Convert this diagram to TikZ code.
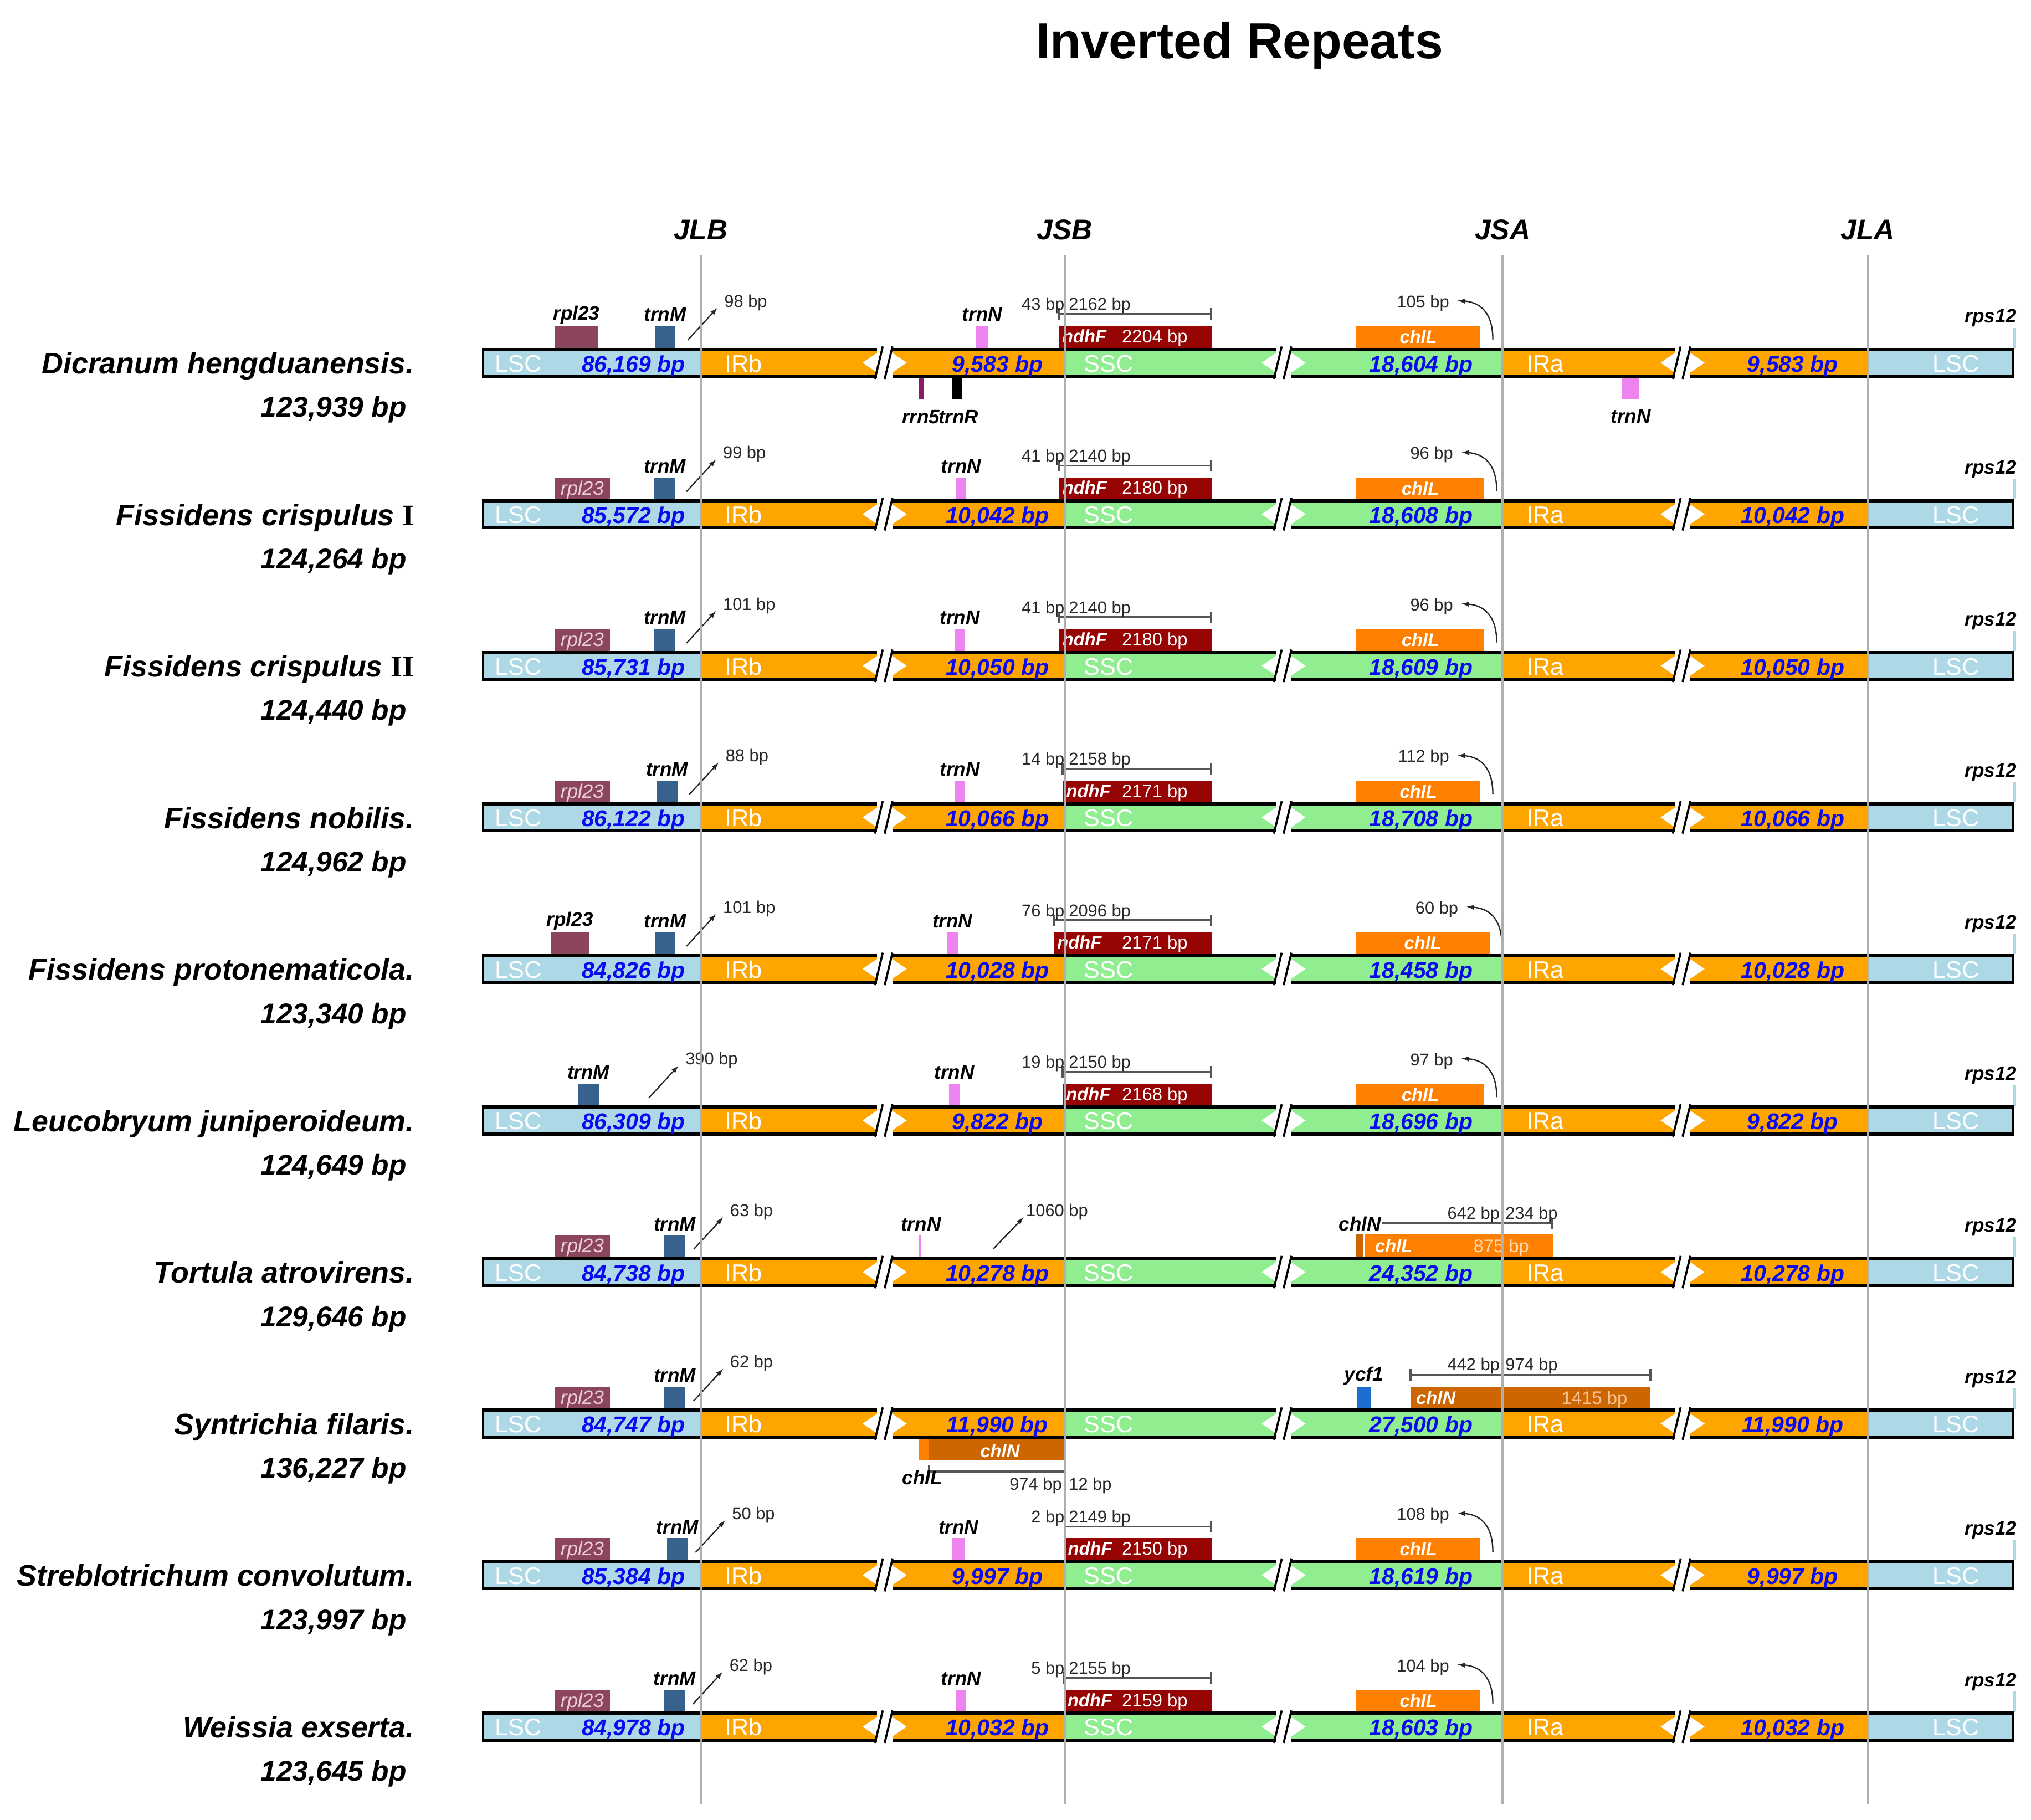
\documentclass[tikz,border=0pt]{standalone}
\usepackage{fontspec}
\setmainfont{Liberation Sans}
\newfontfamily\numserif{Liberation Serif}
\usetikzlibrary{arrows.meta}

\definecolor{lscc}{RGB}{173,216,230}
\definecolor{irc}{RGB}{255,165,0}
\definecolor{sscc}{RGB}{144,238,144}
\definecolor{rplc}{RGB}{140,70,92}
\definecolor{trnMc}{RGB}{55,98,140}
\definecolor{trnNc}{RGB}{238,130,238}
\definecolor{ndhFc}{RGB}{150,4,4}
\definecolor{chlLc}{RGB}{255,127,0}
\definecolor{chlNc}{RGB}{205,102,0}
\definecolor{ycfc}{RGB}{30,110,210}
\definecolor{rrnc}{RGB}{139,26,107}
\definecolor{vline}{RGB}{175,175,175}
\definecolor{dimc}{RGB}{85,85,85}
\definecolor{smalltxt}{RGB}{40,40,40}
\definecolor{bpblue}{RGB}{10,10,240}
\definecolor{paletxt}{RGB}{255,215,175}
\definecolor{paletxtb}{RGB}{245,195,150}
\definecolor{rpltxt}{RGB}{235,205,215}

\tikzset{
  titlefont/.style={font=\fontsize{39}{39}\selectfont\bfseries, inner sep=0, anchor=base},
  hdr/.style={font=\fontsize{22}{22}\selectfont\bfseries\itshape, inner sep=0, anchor=base},
  species/.style={font=\fontsize{23}{23}\selectfont\bfseries\itshape, inner sep=0, anchor=base east},
  total/.style={font=\fontsize{22}{22}\selectfont\bfseries\itshape, inner sep=0, anchor=base east},
  seglbl/.style={font=\fontsize{18.5}{18.5}\selectfont, text=white, inner sep=0, anchor=base},
  bplbl/.style={font=\fontsize{17.5}{17.5}\selectfont\bfseries\itshape, text=bpblue, inner sep=0, anchor=base},
  glbl/.style={font=\fontsize{15}{15}\selectfont\bfseries\itshape, inner sep=0, anchor=base},
  small/.style={font=\fontsize{13.2}{13.2}\selectfont, text=smalltxt, inner sep=0, anchor=base},
  inname/.style={font=\fontsize{14}{14}\selectfont\bfseries\itshape, text=white, inner sep=0, anchor=base},
  innum/.style={font=\fontsize{14}{14}\selectfont, text=white, inner sep=0, anchor=base},
  inrpl/.style={font=\fontsize{15}{15}\selectfont\itshape, text=rpltxt, inner sep=0, anchor=base},
  barline/.style={line width=2.6, black},
  slashln/.style={line width=1.6, black},
  dimln/.style={line width=1.6, dimc},
  ptr/.style={line width=1, black!85, -{Latex[length=6pt,width=4pt]}},
  vln/.style={line width=1.4, vline},
}

\newcommand{\rn}[1]{{\numserif\bfseries\upshape #1}}

\newcommand{\genomebar}[4]{%
  \fill[lscc] (372,-11.5) rectangle (541,11.5);
  \fill[irc] (541,-11.5) rectangle (677,11.5);
  \fill[irc] (689,-11.5) rectangle (822,11.5);
  \fill[sscc] (822,-11.5) rectangle (985,11.5);
  \fill[sscc] (997,-11.5) rectangle (1160,11.5);
  \fill[irc] (1160,-11.5) rectangle (1293,11.5);
  \fill[irc] (1305,-11.5) rectangle (1442,11.5);
  \fill[lscc] (1442,-11.5) rectangle (1555,11.5);
  \foreach \xa/\xb in {372/677,689/985,997/1293,1305/1555}{
    \draw[barline] (\xa,-10.3) -- (\xb,-10.3);
    \draw[barline] (\xa,10.3) -- (\xb,10.3);
  }
  \draw[line width=1.6] (372.8,-11.5) -- (372.8,11.5);
  \draw[line width=1.6] (1554.2,-11.5) -- (1554.2,11.5);
  \foreach \bx in {677,985,1293}{
    \fill[white] (\bx-11,0) -- (\bx,-7.5) -- (\bx,7.5) -- cycle;
    \fill[white] (\bx+23,0) -- (\bx+12,-7.5) -- (\bx+12,7.5) -- cycle;
    \draw[slashln] (\bx-1.5,12.5) -- (\bx+4.5,-12.5);
    \draw[slashln] (\bx+6,12.5) -- (\bx+12,-12.5);
  }
  \node[seglbl] (lscl#1) at (400,7) {LSC};
  \node[bplbl] (lscbp#1) at (489,7) {#2};
  \node[seglbl] (irbl#1) at (574,7) {IRb};
  \node[bplbl] (irbbp#1) at (770,7) {#3};
  \node[seglbl] (sscl#1) at (856,7) {SSC};
  \node[bplbl] (sscbp#1) at (1097,7) {#4};
  \node[seglbl] (iral#1) at (1193,7) {IRa};
  \node[bplbl] (irabp#1) at (1384,7) {#3};
  \node[seglbl] (lscr#1) at (1510,7) {LSC};
}

\newcommand{\mkrplin}[1]{%
  \fill[rplc] (428,-28.5) rectangle (471,-11.5);
  \node[inrpl] (rpl#1) at (449.5,-15) {rpl23};}
\newcommand{\mkrplabove}[3]{%
  \fill[rplc] (#2,-28.5) rectangle (#3,-11.5);
  \node[glbl] (rpl#1) at ({(#2+#3)/2},-33) {rpl23};}
\newcommand{\mktrnM}[5]{%
  \fill[trnMc] (#2,-28.5) rectangle (#3,-11.5);
  \node[glbl] (trnM#1) at ({(#2+#3)/2},-32) {trnM};
  \coordinate (ma#1) at (#4,-17.5);
  \coordinate (mb#1) at ({#4+23},-42.5);
  \draw[ptr] (ma#1) -- (mb#1);
  \node[small, anchor=base west] (mbp#1) at ({#4+28},-43) {#5};}
\newcommand{\mktrnN}[3]{%
  \fill[trnNc] (#2,-28.5) rectangle (#3,-11.5);
  \node[glbl] (trnN#1) at ({(#2+#3)/2},-32) {trnN};}
\newcommand{\mkndhF}[5]{%
  \fill[ndhFc] (#2,-28.5) rectangle (936,-11.5);
  \node[inname, anchor=base west] (ndhF#1) at ({#2+2.5},-15.5) {ndhF};
  \node[innum, anchor=base west] (ndhFbp#1) at (866,-15.5) {#5};
  \coordinate (da#1) at (#2,-37.5);
  \coordinate (db#1) at (935,-37.5);
  \draw[dimln] (da#1) -- (db#1);
  \foreach \tx in {#2,822,935} \draw[dimln] (\tx,-42) -- (\tx,-33);
  \node[small, anchor=base east] (ndhA#1) at (822,-40.5) {#3};
  \node[small, anchor=base west] (ndhB#1) at (825,-40.5) {#4};}
\newcommand{\mkchlL}[3]{%
  \fill[chlLc] (1047,-28.5) rectangle (#2,-11.5);
  \node[inname] (chlL#1) at ({(1047+#2)/2},-15) {chlL};
  \coordinate (ca#1) at ({#2+9.5},-18);
  \coordinate (cb#1) at ({#2-18},-48);
  \draw[ptr] (ca#1) .. controls ({#2+9.5},-36) and ({#2+2},-46.5) .. (cb#1);
  \node[small, anchor=base east] (cbp#1) at ({#2-24},-42.5) {#3};}
\newcommand{\mkrps}[1]{%
  \fill[lscc] (1554,-27) rectangle (1556.5,-11.5);
  \node[glbl] (rps#1) at (1537,-31) {rps12};}

\begin{document}
\begin{tikzpicture}[x=1pt,y=-1pt]
\useasboundingbox (0,0) rectangle (1568,1405);
\fill[white] (0,0) rectangle (1568,1405);

\node[titlefont] (title) at (957,45) {Inverted Repeats};
\node[hdr] (hJLB) at (541,185) {JLB};
\node[hdr] (hJSB) at (822,185) {JSB};
\node[hdr] (hJSA) at (1160,185) {JSA};
\node[hdr] (hJLA) at (1442,185) {JLA};

% Row 1
\begin{scope}[shift={(0,280)}]
  \node[species] (sp1) at (320,8.5) {Dicranum hengduanensis.};
  \node[total] (tot1) at (314,42) {123,939 bp};
  \mkrplabove{1}{428}{462}
  \mktrnM{1}{506}{521}{531}{98 bp}
  \mktrnN{1}{753.5}{763}
  \mkndhF{1}{817.3}{43 bp}{2162 bp}{2204 bp}
  \mkchlL{1}{1143}{105 bp}
  \mkrps{1}
  \fill[rrnc] (709.6,11.5) rectangle (712.8,28.5);
  \fill[black] (735,11.5) rectangle (743,28.5);
  \fill[trnNc] (1252.5,11.5) rectangle (1265,28.5);
  \genomebar{1}{86,169 bp}{9,583 bp}{18,604 bp}
  \node[glbl] (rrn1) at (711,47) {rrn5};
  \node[glbl] (trnR1) at (740,47) {trnR};
  \node[glbl] (trnNb1) at (1259,46.5) {trnN};
\end{scope}

% Row 2
\begin{scope}[shift={(0,397)}]
  \node[species] (sp2) at (320,8.5) {Fissidens crispulus \rn{I}};
  \node[total] (tot2) at (314,42) {124,264 bp};
  \mkrplin{2}
  \mktrnM{2}{505}{521.5}{530}{99 bp}
  \mktrnN{2}{738}{746}
  \mkndhF{2}{817.6}{41 bp}{2140 bp}{2180 bp}
  \mkchlL{2}{1146}{96 bp}
  \mkrps{2}
  \genomebar{2}{85,572 bp}{10,042 bp}{18,608 bp}
\end{scope}

% Row 3
\begin{scope}[shift={(0,514)}]
  \node[species] (sp3) at (320,8.5) {Fissidens crispulus \rn{II}};
  \node[total] (tot3) at (314,42) {124,440 bp};
  \mkrplin{3}
  \mktrnM{3}{505}{521.5}{530}{101 bp}
  \mktrnN{3}{737}{745}
  \mkndhF{3}{817.6}{41 bp}{2140 bp}{2180 bp}
  \mkchlL{3}{1146}{96 bp}
  \mkrps{3}
  \genomebar{3}{85,731 bp}{10,050 bp}{18,609 bp}
\end{scope}

% Row 4
\begin{scope}[shift={(0,631)}]
  \node[species] (sp4) at (320,8.5) {Fissidens nobilis.};
  \node[total] (tot4) at (314,42) {124,962 bp};
  \mkrplin{4}
  \mktrnM{4}{507}{523}{532}{88 bp}
  \mktrnN{4}{737}{745}
  \mkndhF{4}{820.5}{14 bp}{2158 bp}{2171 bp}
  \mkchlL{4}{1143}{112 bp}
  \mkrps{4}
  \genomebar{4}{86,122 bp}{10,066 bp}{18,708 bp}
\end{scope}

% Row 5
\begin{scope}[shift={(0,748)}]
  \node[species] (sp5) at (320,8.5) {Fissidens protonematicola.};
  \node[total] (tot5) at (314,42) {123,340 bp};
  \mkrplabove{5}{425}{455}
  \mktrnM{5}{505.8}{521}{530}{101 bp}
  \mktrnN{5}{731}{739.5}
  \mkndhF{5}{813.5}{76 bp}{2096 bp}{2171 bp}
  \mkchlL{5}{1150}{60 bp}
  \mkrps{5}
  \genomebar{5}{84,826 bp}{10,028 bp}{18,458 bp}
\end{scope}

% Row 6
\begin{scope}[shift={(0,865)}]
  \node[species] (sp6) at (320,8.5) {Leucobryum juniperoideum.};
  \node[total] (tot6) at (314,42) {124,649 bp};
  \mktrnM{6}{446}{462.5}{501}{390 bp}
  \mktrnN{6}{732.5}{741}
  \mkndhF{6}{820.4}{19 bp}{2150 bp}{2168 bp}
  \mkchlL{6}{1146}{97 bp}
  \mkrps{6}
  \genomebar{6}{86,309 bp}{9,822 bp}{18,696 bp}
\end{scope}

% Row 7
\begin{scope}[shift={(0,982)}]
  \node[species] (sp7) at (320,8.5) {Tortula atrovirens.};
  \node[total] (tot7) at (314,42) {129,646 bp};
  \mkrplin{7}
  \mktrnM{7}{513}{529}{535.5}{63 bp}
  \fill[trnNc] (709.5,-28.5) rectangle (711.3,-11.5);
  \node[glbl] (trnN7) at (711,-32) {trnN};
  \coordinate (na7) at (767,-18);
  \coordinate (nb7) at (790.5,-42.5);
  \draw[ptr] (na7) -- (nb7);
  \node[small, anchor=base west] (nbp7) at (792,-43) {1060 bp};
  \fill[chlNc] (1047,-29.5) rectangle (1052,-11.5);
  \node[glbl] (chlN7) at (1050,-32) {chlN};
  \fill[chlLc] (1054,-29.5) rectangle (1199,-11.5);
  \node[inname] (chlL7) at (1076,-15) {chlL};
  \node[innum, text=paletxt] (chlLbp7) at (1159,-15) {875 bp};
  \coordinate (ea7) at (1067,-37.5);
  \coordinate (eb7) at (1198,-37.5);
  \draw[dimln] (ea7) -- (eb7);
  \foreach \tx in {1160,1198} \draw[dimln] (\tx,-42) -- (\tx,-33);
  \node[small, anchor=base east] (eA7) at (1158,-41) {642 bp};
  \node[small, anchor=base west] (eB7) at (1162,-41) {234 bp};
  \mkrps{7}
  \genomebar{7}{84,738 bp}{10,278 bp}{24,352 bp}
\end{scope}

% Row 8
\begin{scope}[shift={(0,1099)}]
  \node[species] (sp8) at (320,8.5) {Syntrichia filaris.};
  \node[total] (tot8) at (314,42) {136,227 bp};
  \mkrplin{8}
  \mktrnM{8}{513}{529}{535.5}{62 bp}
  \fill[ycfc] (1047.5,-28.5) rectangle (1058.6,-11.5);
  \node[glbl] (ycf8) at (1053,-33) {ycf1};
  \fill[chlNc] (1089,-28.5) rectangle (1274,-11.5);
  \node[inname] (chlN8) at (1108.5,-15) {chlN};
  \node[innum, text=paletxtb] (chlNbp8) at (1231,-15) {1415 bp};
  \coordinate (ga8) at (1089,-37.5);
  \coordinate (gb8) at (1274,-37.5);
  \draw[dimln] (ga8) -- (gb8);
  \foreach \tx in {1089,1160,1274} \draw[dimln] (\tx,-42) -- (\tx,-33);
  \node[small, anchor=base east] (gA8) at (1158,-41) {442 bp};
  \node[small, anchor=base west] (gB8) at (1162,-41) {974 bp};
  \fill[chlLc] (709.5,11.5) rectangle (717,28.5);
  \fill[chlNc] (717,11.5) rectangle (823,28.5);
  \node[inname] (chlNb8) at (772,26) {chlN};
  \coordinate (ha8) at (717,37);
  \coordinate (hb8) at (822,37);
  \draw[dimln] (ha8) -- (hb8);
  \foreach \tx in {717,822} \draw[dimln] (\tx,32.5) -- (\tx,41.5);
  \node[glbl] (chlLb8) at (712,47) {chlL};
  \node[small, anchor=base east] (hA8) at (820,51.5) {974 bp};
  \node[small, anchor=base west] (hB8) at (825,51.5) {12 bp};
  \mkrps{8}
  \genomebar{8}{84,747 bp}{11,990 bp}{27,500 bp}
\end{scope}

% Row 9
\begin{scope}[shift={(0,1216)}]
  \node[species] (sp9) at (320,8.5) {Streblotrichum convolutum.};
  \node[total] (tot9) at (314,42) {123,997 bp};
  \mkrplin{9}
  \mktrnM{9}{515}{531}{537}{50 bp}
  \mktrnN{9}{735}{745}
  \mkndhF{9}{821.8}{2 bp}{2149 bp}{2150 bp}
  \mkchlL{9}{1143}{108 bp}
  \mkrps{9}
  \genomebar{9}{85,384 bp}{9,997 bp}{18,619 bp}
\end{scope}

% Row 10
\begin{scope}[shift={(0,1333)}]
  \node[species] (sp10) at (320,8.5) {Weissia exserta.};
  \node[total] (tot10) at (314,42) {123,645 bp};
  \mkrplin{10}
  \mktrnM{10}{513}{528.7}{535}{62 bp}
  \mktrnN{10}{738}{746}
  \mkndhF{10}{821.5}{5 bp}{2155 bp}{2159 bp}
  \mkchlL{10}{1143}{104 bp}
  \mkrps{10}
  \genomebar{10}{84,978 bp}{10,032 bp}{18,603 bp}
\end{scope}

% junction lines
\foreach \jx in {541,822,1160,1442} \draw[vln] (\jx,197) -- (\jx,1393);
\end{tikzpicture}
\end{document}
